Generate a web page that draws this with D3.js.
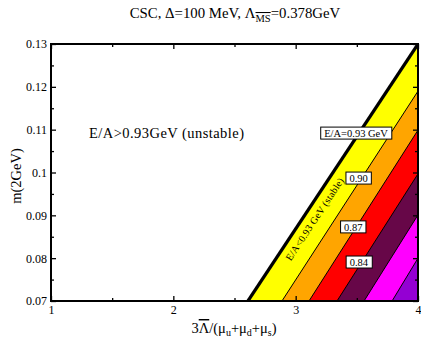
<!DOCTYPE html>
<html>
<head>
<meta charset="utf-8">
<script src="https://cdn.jsdelivr.net/npm/d3@7"></script>
<style>
  html, body { margin: 0; padding: 0; background: #fff; }
  svg text { font-family: "Liberation Serif", "Times New Roman", serif; fill: #000; }
</style>
</head>
<body>
<svg id="chart" width="421" height="339"></svg>
<script>
// Binding-energy contours E/A (GeV) in the (3Λ/Σμ, m) plane
const levels     = [0.93, 0.90, 0.87, 0.84, 0.81, 0.78];
// x where each contour meets m = 0.07, and m where it meets x = 4
const xAtFloor   = [2.61, 2.888, 3.109, 3.338, 3.559, 3.788];
const mAtEdge    = [0.130, 0.119, 0.1099, 0.0997, 0.0901, 0.0800];
const bandColors = ["#ffff00", "#ffa500", "#ff0000", "#670748", "#ff00ff", "#9400d3"];

// contour labels and the m value at which each sits on its line
const labelTexts = ["E/A=0.93 GeV", "0.90", "0.87", "0.84"];
const labelM     = [0.1092, 0.0987, 0.0873, 0.0791];

const xDomain = [1, 4];
const yDomain = [0.07, 0.13];
const xMajor = [1, 2, 3, 4];
const xMinor = [1.5, 2.5, 3.5];
const yMajor = [0.07, 0.08, 0.09, 0.10, 0.11, 0.12, 0.13];
const yMinor = [0.075, 0.085, 0.095, 0.105, 0.115, 0.125];
const xTickLabels = ["1", "2", "3", "4"];
const yTickLabels = ["0.07", "0.08", "0.09", "0.1", "0.11", "0.12", "0.13"];

const svg = d3.select("#chart");
const L = 51, R = 418, T = 44, B = 301;

const x = d3.scaleLinear().domain(xDomain).range([L, R]);
const y = d3.scaleLinear().domain(yDomain).range([B, T]);

svg.append("defs").append("clipPath").attr("id", "plotClip")
  .append("rect").attr("x", L).attr("y", T).attr("width", R - L).attr("height", B - T);

const plot = svg.append("g").attr("clip-path", "url(#plotClip)");
const line = d3.line().x(d => x(d[0])).y(d => y(d[1]));

// each band: region to the right of its contour, painted from outermost inward
levels.forEach((lv, i) => {
  const pts = [[xAtFloor[i], yDomain[0]], [xDomain[1], mAtEdge[i]], [xDomain[1], yDomain[0]]];
  plot.append("path").attr("d", line(pts) + "Z").attr("fill", bandColors[i]).attr("stroke", "none");
});

// contour lines
levels.forEach((lv, i) => {
  const pts = [[xAtFloor[i], yDomain[0]], [xDomain[1], mAtEdge[i]]];
  plot.append("path").attr("d", line(pts))
    .attr("fill", "none").attr("stroke", "#000")
    .attr("stroke-width", i === 0 ? 3.2 : 1);
});

// x on a contour at given m
function xOn(i, m) {
  const t = (m - yDomain[0]) / (mAtEdge[i] - yDomain[0]);
  return xAtFloor[i] + t * (xDomain[1] - xAtFloor[i]);
}

// rotated "stable" label inside the yellow band
{
  const mMid = 0.0891;
  const xa = xOn(0, mMid), xb = xOn(1, mMid);
  const cx = (x(xa) + x(xb)) / 2 - 4, cy = y(mMid);
  const ang = Math.atan2(y(mAtEdge[0]) - y(yDomain[0]), x(xDomain[1]) - x(xAtFloor[0])) * 180 / Math.PI;
  svg.append("text").attr("transform", `translate(${cx},${cy}) rotate(${ang})`)
    .attr("text-anchor", "middle").attr("dy", "0.35em")
    .attr("textLength", 97).attr("lengthAdjust", "spacing")
    .style("font-size", "10px").text("E/A<0.93 GeV (stable)");
}

// boxed contour labels
labelTexts.forEach((txt, i) => {
  const cx = x(xOn(i, labelM[i])) - 3, cy = y(labelM[i]);
  const g = svg.append("g");
  const rect = g.append("rect");
  const t = g.append("text").attr("x", cx).attr("y", cy).attr("text-anchor", "middle")
    .attr("dy", "0.35em").style("font-size", "10.5px").text(txt);
  const bb = t.node().getBBox();
  rect.attr("x", bb.x - 3.5).attr("y", cy - 6).attr("width", bb.width + 7).attr("height", 12)
    .attr("fill", "#fff").attr("stroke", "#000").attr("stroke-width", 1);
});

// unstable region label
svg.append("text").attr("x", 89).attr("y", 138).style("font-size", "14.5px")
  .attr("textLength", 155).attr("lengthAdjust", "spacing")
  .text("E/A>0.93GeV (unstable)");

// axes with inward ticks on all four sides
function ticks(axisFn, scale, vals, size, labels, tx, ty) {
  const a = axisFn(scale).tickValues(vals).tickSizeInner(-size).tickSizeOuter(0).tickPadding(4)
    .tickFormat(labels ? (d, i) => labels[i] : "");
  const g = svg.append("g").attr("transform", `translate(${tx},${ty})`).call(a);
  g.select(".domain").remove();
  g.selectAll("line").attr("stroke", "#000").attr("stroke-width", 1.3);
  g.selectAll("text").style("font-size", "12px").style("font-family", "Liberation Serif, serif");
  return g;
}
ticks(d3.axisBottom, x, xMajor, 5, xTickLabels, 0, B);
ticks(d3.axisBottom, x, xMinor, 3, null, 0, B);
ticks(d3.axisTop, x, xMajor, 5, null, 0, T);
ticks(d3.axisTop, x, xMinor, 3, null, 0, T);
ticks(d3.axisLeft, y, yMajor, 5, yTickLabels, L, 0);
ticks(d3.axisLeft, y, yMinor, 3, null, L, 0);
ticks(d3.axisRight, y, yMajor, 5, null, R, 0);
ticks(d3.axisRight, y, yMinor, 3, null, R, 0);

// frame
svg.append("rect").attr("x", L).attr("y", T).attr("width", R - L).attr("height", B - T)
  .attr("fill", "none").attr("stroke", "#000").attr("stroke-width", 2);

// title
{
  const t = svg.append("text").attr("x", 235).attr("y", 18).attr("text-anchor", "middle")
    .style("font-size", "14.8px");
  t.append("tspan").text("CSC, \u0394=100 MeV, \u039B");
  t.append("tspan").attr("dy", 4).style("font-size", "10.5px")
    .style("text-decoration", "overline").text("MS");
  t.append("tspan").attr("dy", -4).text("=0.378GeV");
}

// x-axis title
{
  const t = svg.append("text").attr("x", 234).attr("y", 333).attr("text-anchor", "middle")
    .style("font-size", "14.5px");
  t.append("tspan").text("3");
  t.append("tspan").style("text-decoration", "overline").text("\u039B");
  t.append("tspan").text("/(\u03BC");
  t.append("tspan").attr("dy", 3).style("font-size", "10px").text("u");
  t.append("tspan").attr("dy", -3).text("+\u03BC");
  t.append("tspan").attr("dy", 3).style("font-size", "10px").text("d");
  t.append("tspan").attr("dy", -3).text("+\u03BC");
  t.append("tspan").attr("dy", 3).style("font-size", "10px").text("s");
  t.append("tspan").attr("dy", -3).text(")");
}

// y-axis title
svg.append("text").attr("transform", "translate(21,176) rotate(-90)")
  .attr("text-anchor", "middle").style("font-size", "14.5px").text("m(2GeV)");
</script>
</body>
</html>
